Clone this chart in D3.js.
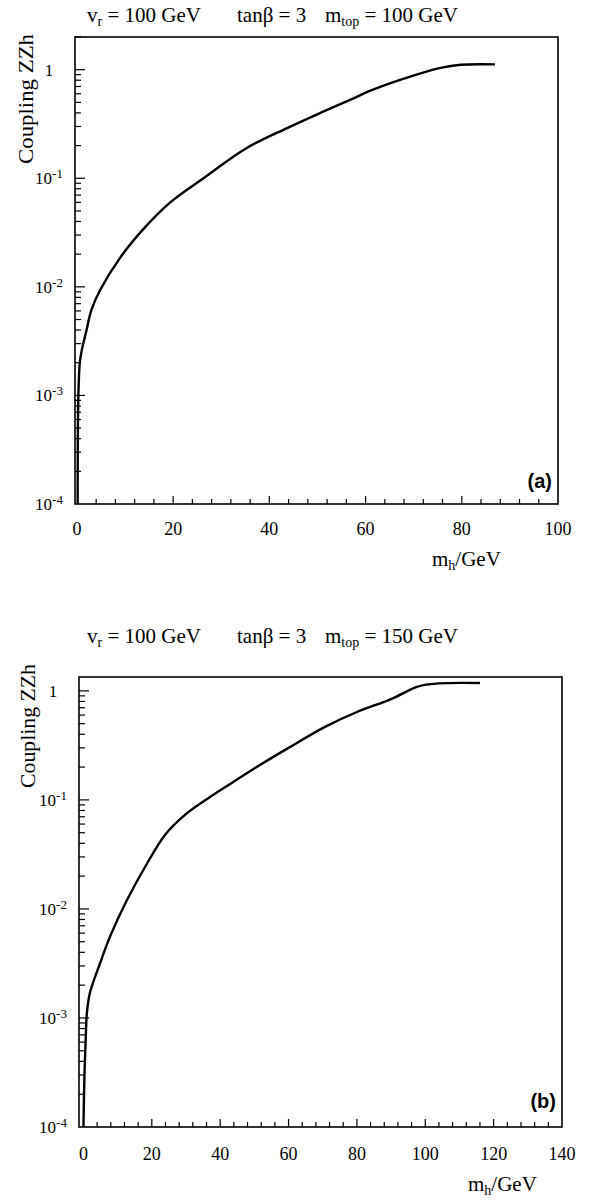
<!DOCTYPE html>
<html>
<head>
<meta charset="utf-8">
<script src="https://cdn.jsdelivr.net/npm/d3@7"></script>
<style>
  body { margin: 0; background: #fff; }
  text { font-family: "Liberation Serif", "Times New Roman", serif; fill: #000; }
</style>
</head>
<body>
<div id="chart"></div>
<script>
// m_h (GeV) and ZZh coupling
const massA = [0.15, 0.3, 0.6, 1.0, 2.0, 3.0, 4.8, 9, 13.8, 19.4, 26.3, 35.3, 43.7, 50.6, 56.9, 61, 67.3, 75.6, 79.8, 86.9];
const couplingA = [1e-4, 1e-3, 2e-3, 2.6e-3, 4e-3, 6.1e-3, 9.3e-3, 0.0186, 0.034, 0.06, 0.10, 0.19, 0.29, 0.40, 0.53, 0.64, 0.81, 1.04, 1.11, 1.12];

const massB = [0.0, 0.3, 0.7, 1.0, 1.9, 4.9, 7.8, 12.7, 18.1, 23.9, 29.7, 36.6, 43.4, 50.2, 60, 70.8, 80, 90, 98, 104, 116];
const couplingB = [1e-4, 3e-4, 7e-4, 1.1e-3, 1.7e-3, 3.2e-3, 5.6e-3, 0.012, 0.0245, 0.048, 0.073, 0.104, 0.143, 0.196, 0.30, 0.47, 0.64, 0.84, 1.1, 1.17, 1.18];

const xTicksA = [0, 20, 40, 60, 80, 100];
const xTicksB = [0, 20, 40, 60, 80, 100, 120, 140];
const yExps = [0, -1, -2, -3, -4];

const panels = [
  {tag: "(a)", mtop: "100", mass: massA, coup: couplingA, ticks: xTicksA, xmin: -0.4, xmax: 100, ymax: 2.0,
   left: 75, right: 558, top: 37, bottom: 504, titleY: 22, tickY: 535, xlabX: 432, xlabY: 566, ylabX: 25, ylabY: 99, ylabLen: 130, tagY: 488},
  {tag: "(b)", mtop: "150", mass: massB, coup: couplingB, ticks: xTicksB, xmin: -1.3, xmax: 140, ymax: 1.34,
   left: 79, right: 562, top: 677, bottom: 1127, titleY: 643, tickY: 1160, xlabX: 468, xlabY: 1191, ylabX: 27, ylabY: 726, ylabLen: 124, tagY: 1108}
];

const svg = d3.select("#chart").append("svg")
    .attr("width", 589)
    .attr("height", 1202);

panels.forEach(function(p){
    const x = d3.scaleLinear().domain([p.xmin, p.xmax]).range([p.left, p.right]);
    const y = d3.scaleLog().domain([1e-4, p.ymax]).range([p.bottom, p.top]);
    const g = svg.append("g");

    // frame
    g.append("rect")
        .attr("x", p.left).attr("y", p.top)
        .attr("width", p.right - p.left).attr("height", p.bottom - p.top)
        .attr("fill", "none").attr("stroke", "#000").attr("stroke-width", 1.6);

    // x ticks, every 4 GeV, longer on the labelled ones
    const minor = d3.range(4, p.xmax, 4);
    g.selectAll(".xt").data(minor).enter().append("line")
        .attr("x1", d => x(d)).attr("x2", d => x(d))
        .attr("y1", p.bottom).attr("y2", d => p.bottom - (d % 20 == 0 ? 8 : 5))
        .attr("stroke", "#000").attr("stroke-width", 1.2);

    g.selectAll(".xl").data(p.ticks).enter().append("text")
        .attr("x", d => x(d)).attr("y", p.tickY)
        .attr("text-anchor", "middle").style("font-size", "18px")
        .text(d => d);

    // y ticks: decades plus 2..9
    const ySub = [];
    yExps.forEach(function(e){
        for (let k = 1; k < 10; k++){
            const v = k * Math.pow(10, e);
            if (v <= p.ymax && e > -4 || (e == -4 && k > 1)) ySub.push({v: v, major: k == 1});
        }
    });
    g.selectAll(".yt").data(ySub).enter().append("line")
        .attr("x1", p.left).attr("x2", d => p.left + (d.major ? 10 : 6))
        .attr("y1", d => y(d.v)).attr("y2", d => y(d.v))
        .attr("stroke", "#000").attr("stroke-width", 1.2);

    const yl = g.selectAll(".yl").data(yExps).enter().append("text")
        .attr("x", p.left - 26).attr("y", d => y(Math.pow(10, d)) + 6)
        .attr("text-anchor", "middle").style("font-size", "17px");
    yl.append("tspan").text(d => d == 0 ? "1" : "10");
    yl.filter(d => d != 0).append("tspan")
        .attr("dy", -6).style("font-size", "13px").text(d => d);

    // curve
    const line = d3.line()
        .x((d, i) => x(p.mass[i]))
        .y(d => y(d))
        .curve(d3.curveCatmullRom.alpha(0.5));
    g.append("path")
        .datum(p.coup)
        .attr("d", line)
        .attr("fill", "none").attr("stroke", "#000").attr("stroke-width", 2.4);

    // title
    const t1 = g.append("text").attr("x", 87).attr("y", p.titleY).style("font-size", "21px");
    t1.append("tspan").text("v");
    t1.append("tspan").attr("dy", 4).style("font-size", "14px").text("r");
    t1.append("tspan").attr("dy", -4).text(" = 100 GeV");
    g.append("text").attr("x", 237).attr("y", p.titleY).style("font-size", "21px").text("tanβ = 3");
    const t3 = g.append("text").attr("x", 325).attr("y", p.titleY).style("font-size", "21px");
    t3.append("tspan").text("m");
    t3.append("tspan").attr("dy", 4).style("font-size", "14px").text("top");
    t3.append("tspan").attr("dy", -4).text(" = " + p.mtop + " GeV");

    // axis labels
    g.append("text")
        .attr("transform", "translate(" + p.ylabX + "," + p.ylabY + ") rotate(-90)")
        .attr("text-anchor", "middle").attr("dy", "0.35em").style("font-size", "22px")
        .attr("textLength", p.ylabLen).attr("lengthAdjust", "spacingAndGlyphs")
        .text("Coupling ZZh");

    const xl = g.append("text").attr("x", p.xlabX).attr("y", p.xlabY)
        .style("font-size", "21px");
    xl.append("tspan").text("m");
    xl.append("tspan").attr("dy", 4).style("font-size", "14px").text("h");
    xl.append("tspan").attr("dy", -4).text("/GeV");

    g.append("text")
        .attr("x", p.right - 6).attr("y", p.tagY)
        .attr("text-anchor", "end")
        .style("font-family", "'Liberation Sans', Arial, sans-serif")
        .style("font-weight", "bold").style("font-size", "20px")
        .text(p.tag);
});
</script>
</body>
</html>
